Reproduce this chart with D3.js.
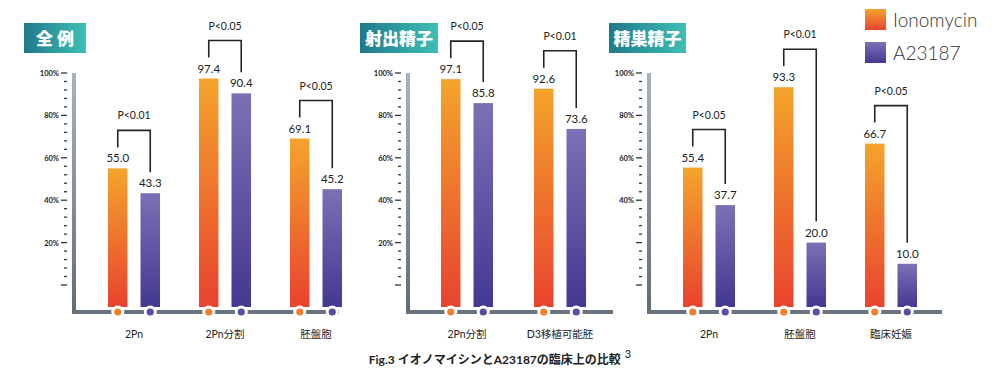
<!DOCTYPE html>
<html>
<head>
    <meta charset='utf-8'>
    <title>Fig.3</title>
    <script src='https://cdn.jsdelivr.net/npm/d3@7/dist/d3.min.js'></script>
    <style>
        body { margin: 0; background: #fff; }
        text { font-family: 'Lato', 'Noto Sans CJK JP', sans-serif; fill: #222; }
    </style>
</head>
<body>
    <svg width='1000' height='375'></svg>
    <script>
        // データ
        const series = ['Ionomycin', 'A23187']
        const panelTitles = ['全 例', '射出精子', '精巣精子']
        const categories = [['2Pn', '2Pn分割', '胚盤胞'], ['2Pn分割', 'D3移植可能胚'], ['2Pn', '胚盤胞', '臨床妊娠']]
        const ionomycin = [[55.0, 97.4, 69.1], [97.1, 92.6], [55.4, 93.3, 66.7]]
        const a23187 = [[43.3, 90.4, 45.2], [85.8, 73.6], [37.7, 20.0, 10.0]]
        const pLabels = [['P<0.01', 'P<0.05', 'P<0.05'], ['P<0.05', 'P<0.01'], ['P<0.05', 'P<0.01', 'P<0.05']]
        const majorTicks = [0, 20, 40, 60, 80, 100]
        const tickLabels = [['20%', '40%', '60%', '80%', '100%'], ['20%', '40%', '60%', '80%', '100%'], ['40%', '60%', '80%', '100%']]

        // レイアウト
        const layout = [
            { axisX: 74, end: 339, range: [134, 316], titleX: 24, titleW: 62 },
            { axisX: 408, end: 613, range: [467, 560], titleX: 360, titleW: 78 },
            { axisX: 649, end: 942, range: [709, 891], titleX: 609, titleW: 77 }
        ]
        const baseY = 312, barBottom = 307

        const svg = d3.select('svg')
        const defs = svg.append('defs')

        function vGrad(id, top, bottom) {
            const g = defs.append('linearGradient').attr('id', id).attr('x1', 0).attr('y1', 0).attr('x2', 0).attr('y2', 1)
            g.append('stop').attr('offset', '0%').attr('stop-color', top)
            g.append('stop').attr('offset', '100%').attr('stop-color', bottom)
        }
        vGrad('gOrange', '#f4a42c', '#e8432f')
        vGrad('gPurple', '#7c70b5', '#433891')
        vGrad('gAxis', '#a9b3bd', '#5e6c78')
        const tg = defs.append('linearGradient').attr('id', 'gTitle').attr('x1', 0).attr('x2', 1)
        tg.append('stop').attr('offset', '0%').attr('stop-color', '#20798c')
        tg.append('stop').attr('offset', '100%').attr('stop-color', '#3dbfb4')

        const colors = d3.scaleOrdinal().domain(series).range(['url(#gOrange)', 'url(#gPurple)'])
        const dotColors = d3.scaleOrdinal().domain(series).range(['#f0802e', '#5b4ca3'])

        const y = d3.scaleLinear().domain([0, 100]).range([285, 73])
        const inner = d3.scaleBand().domain(series).range([-26, 26]).paddingInner(0.4)

        layout.forEach((L, p) => {
            const g = svg.append('g')
            const x = d3.scalePoint().domain(categories[p]).range(L.range)

            // タイトル
            g.append('rect').attr('x', L.titleX).attr('y', 23).attr('width', L.titleW).attr('height', 30)
                .attr('fill', 'url(#gTitle)')
            g.append('text').attr('x', L.titleX + L.titleW / 2).attr('y', 44.5)
                .attr('text-anchor', 'middle').attr('font-size', 17).attr('font-weight', 900)
                .style('fill', '#fff').style('font-family', "'Noto Sans CJK JP'")
                .text(panelTitles[p])

            // 目盛
            const minor = d3.range(0, 101, 4).filter(v => v % 20 !== 0)
            g.selectAll('.minor').data(minor).enter().append('line')
                .attr('x1', L.axisX - 10).attr('x2', L.axisX - 7)
                .attr('y1', d => y(d)).attr('y2', d => y(d))
                .attr('stroke', '#333').attr('stroke-width', 1.3)
            g.selectAll('.major').data(majorTicks).enter().append('line')
                .attr('x1', L.axisX - 13).attr('x2', L.axisX - 7)
                .attr('y1', d => y(d)).attr('y2', d => y(d))
                .attr('stroke', '#333').attr('stroke-width', 1.3)
            g.selectAll('.tl').data(majorTicks.filter(v => tickLabels[p].includes(v + '%'))).enter().append('text')
                .attr('x', L.axisX - 15).attr('y', d => y(d) + 3)
                .attr('text-anchor', 'end').attr('font-size', 7.5).attr('font-weight', 700)
                .text(d => d + '%')

            // 軸
            g.append('rect').attr('x', L.axisX - 2).attr('y', 73).attr('width', 4).attr('height', baseY - 71)
                .attr('fill', 'url(#gAxis)')
            g.append('rect').attr('x', L.axisX - 2).attr('y', baseY - 2).attr('width', L.end - L.axisX + 2).attr('height', 4)
                .attr('fill', '#67747f')

            categories[p].forEach((c, i) => {
                const vals = [ionomycin[p][i], a23187[p][i]]
                const cx = x(c)
                const data = series.map((s, k) => ({ s, v: vals[k] }))

                g.selectAll(null).data(data).enter().append('rect')
                    .attr('x', d => cx + inner(d.s)).attr('width', inner.bandwidth())
                    .attr('y', d => y(d.v)).attr('height', d => barBottom - y(d.v))
                    .attr('fill', d => colors(d.s))

                g.selectAll(null).data(data).enter().append('text')
                    .attr('x', d => cx + inner(d.s) + inner.bandwidth() / 2)
                    .attr('y', d => y(d.v) - 6)
                    .attr('text-anchor', 'middle').attr('font-size', 11.5)
                    .text(d => d.v.toFixed(1))

                // 軸上のドット
                g.selectAll(null).data(data).enter().append('circle')
                    .attr('cx', d => cx + inner(d.s) + inner.bandwidth() / 2).attr('cy', baseY)
                    .attr('r', 6.5).attr('fill', '#fff')
                g.selectAll(null).data(data).enter().append('circle')
                    .attr('cx', d => cx + inner(d.s) + inner.bandwidth() / 2).attr('cy', baseY)
                    .attr('r', 3.6).attr('fill', d => dotColors(d.s))

                // 有意差ブラケット
                const xl = cx + inner(series[0]) + inner.bandwidth() / 2
                const xr = cx + inner(series[1]) + inner.bandwidth() / 2
                const top = Math.max(36, y(vals[0]) - 38)
                g.append('path')
                    .attr('d', `M${xl},${y(vals[0]) - 21}V${top}H${xr}V${y(vals[1]) - 21}`)
                    .attr('fill', 'none').attr('stroke', '#2a2222').attr('stroke-width', 1.6)
                g.append('text').attr('x', (xl + xr) / 2).attr('y', top - 11)
                    .attr('text-anchor', 'middle').attr('font-size', 10.5)
                    .text(pLabels[p][i])

                g.append('text').attr('x', cx).attr('y', 338)
                    .attr('text-anchor', 'middle').attr('font-size', 10.5)
                    .text(c)
            })
        })

        // 凡例
        const legend = svg.append('g').attr('transform', 'translate(865,9)')
        series.forEach((s, k) => {
            legend.append('rect').attr('x', 0).attr('y', k * 33).attr('width', 21).attr('height', 21)
                .attr('fill', colors(s))
            legend.append('text').attr('x', 28).attr('y', k * 33 + 18)
                .attr('font-size', 19).attr('font-weight', 300).style('fill', '#333')
                .text(s)
        })

        // キャプション
        const cap = svg.append('text').attr('x', 500).attr('y', 364).attr('text-anchor', 'middle')
            .attr('font-size', 12).attr('font-weight', 700)
        cap.append('tspan').text('Fig.3 イオノマイシンとA23187の臨床上の比較')
        cap.append('tspan').attr('dx', 4).attr('dy', -6).attr('font-weight', 400).attr('font-size', 11).text('3')
    </script>
</body>
</html>
